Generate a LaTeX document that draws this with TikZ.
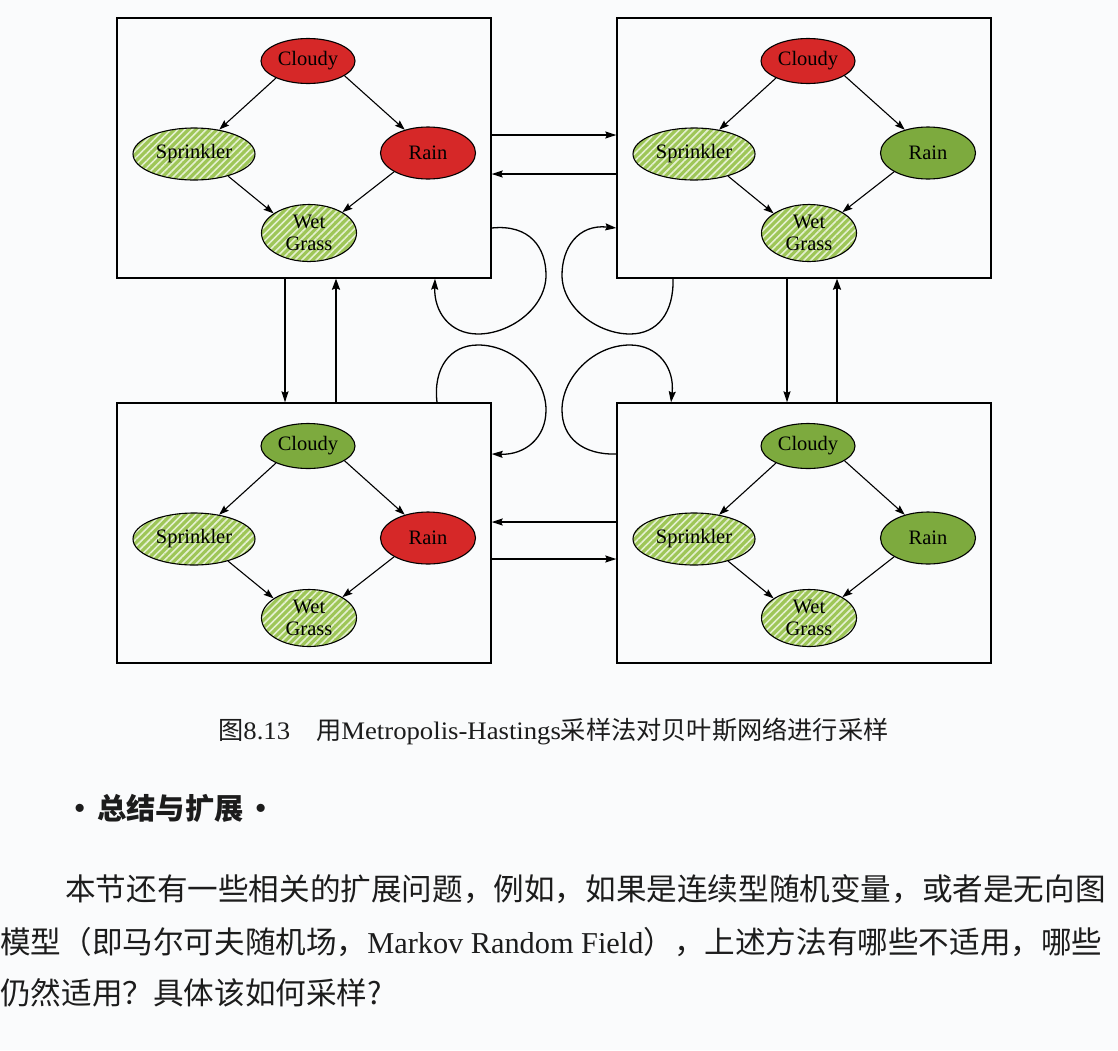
\documentclass[tikz,border=0pt]{standalone}
\usepackage{fontspec}
\usetikzlibrary{shapes.geometric,arrows.meta,patterns.meta}
\newfontfamily\cjk{Noto Sans CJK SC}
\newfontfamily\lat{Liberation Serif}
\newfontfamily\latw[FakeStretch=1.06]{Liberation Serif}
\newfontfamily\nodefont{Liberation Serif}
\definecolor{bgc}{RGB}{250,251,252}
\definecolor{nodered}{RGB}{214,40,40}
\definecolor{nodegreen}{RGB}{125,170,62}
\definecolor{hatchbase}{RGB}{158,198,88}
\definecolor{hatchline}{RGB}{228,240,208}
\definecolor{txt}{RGB}{28,28,28}
\tikzset{
  box/.style={draw=black, line width=1.3pt, minimum width=374pt, minimum height=260pt, inner sep=0pt},
  ell/.style={ellipse, draw=black, line width=1.1pt, inner sep=0pt, align=center,
    font=\nodefont\fontsize{20.5}{24}\selectfont, text=black},
  nred/.style={fill=nodered},
  ngreen/.style={fill=nodegreen},
  nhatch/.style={preaction={fill=hatchbase}, pattern={Lines[angle=45,distance=5pt,line width=1.6pt]}, pattern color=hatchline},
  tip/.style={-{Stealth[length=10pt,width=7pt,inset=1.5pt]}, line width=1.1pt},
  link/.style={-{Stealth[length=11pt,width=7pt,inset=1.5pt]}, line width=1.3pt},
  thicklink/.style={-{Stealth[length=11pt,width=8pt,inset=1.5pt]}, line width=1.9pt},
  txtnode/.style={inner sep=0pt, text=txt, anchor=west}
}
\newcommand\bnet[5]{%
  \node[box] (#1) at (#2+187,#3+130) {};
  \node[ell,#4,minimum width=94pt,minimum height=45pt] (#1c) at (#2+191,#3+43) {Cloudy};
  \node[ell,nhatch,minimum width=122pt,minimum height=52pt] (#1s) at (#2+77,#3+136) {Sprinkler};
  \node[ell,#5,minimum width=95pt,minimum height=52pt] (#1r) at (#2+311,#3+135) {Rain};
  \node[ell,nhatch,minimum width=95pt,minimum height=57pt] (#1w) at (#2+192,#3+215) {Wet\\[-2pt]Grass};
  \draw[tip] (#1c.208) -- (#1s.44);
  \draw[tip] (#1c.338) -- (#1r.135);
  \draw[tip] (#1s.327) -- (#1w.151);
  \draw[tip] (#1r.209) -- (#1w.32);
}
\begin{document}
\begin{tikzpicture}[x=1pt,y=-1pt]
\fill[bgc] (0,0) rectangle (1118,1050);
\useasboundingbox (0,0) rectangle (1118,1050);

\bnet{TL}{117}{18}{nred}{nred}
\bnet{TR}{617}{18}{nred}{ngreen}
\bnet{BL}{117}{403}{ngreen}{nred}
\bnet{BR}{617}{403}{ngreen}{ngreen}

% horizontal transitions
\draw[link] ([yshift=13pt]TL.east) -- ([yshift=13pt]TR.west);
\draw[link] ([yshift=-26pt]TR.west) -- ([yshift=-26pt]TL.east);
\draw[link] ([yshift=11pt]BR.west) -- ([yshift=11pt]BL.east);
\draw[link] ([yshift=-26pt]BL.east) -- ([yshift=-26pt]BR.west);

% vertical transitions
\draw[link] ([xshift=-19pt]TL.south) -- ([xshift=-19pt]BL.north);
\draw[thicklink] ([xshift=32pt]BL.north) -- ([xshift=32pt]TL.south);
\draw[link] ([xshift=-17pt]TR.south) -- ([xshift=-17pt]BR.north);
\draw[thicklink] ([xshift=33pt]BR.north) -- ([xshift=33pt]TR.south);

% self loops
\coordinate (l1s) at ([yshift=-80pt]TL.east);
\coordinate (l1e) at ([xshift=131pt]TL.south);
\draw[link] (l1s) .. controls (530,224) and (546,248) .. (546,275)
  .. controls (546,308) and (510,334) .. (478,334)
  .. controls (450,334) and (434,312) .. (l1e);

\coordinate (l2s) at ([xshift=-131pt]TR.south);
\coordinate (l2e) at ([yshift=-80pt]TR.west);
\draw[link] (l2s) .. controls (674,312) and (658,334) .. (630,334)
  .. controls (598,334) and (562,308) .. (562,275)
  .. controls (562,248) and (578,224) .. (l2e);

\coordinate (l3s) at ([xshift=133pt]BL.north);
\coordinate (l3e) at ([yshift=79pt]BL.east);
\draw[link] (l3s) .. controls (433,368) and (450,345) .. (478,345)
  .. controls (515,345) and (546,378) .. (546,410)
  .. controls (546,438) and (525,455) .. (l3e);

\coordinate (l4s) at ([yshift=79pt]BR.west);
\coordinate (l4e) at ([xshift=-133pt]BR.north);
\draw[link] (l4s) .. controls (583,455) and (562,438) .. (562,410)
  .. controls (562,378) and (593,345) .. (630,345)
  .. controls (658,345) and (675,368) .. (l4e);

% caption
\node[txtnode] (cap) at (218,731) {\fontsize{25.2}{30}\selectfont\cjk 图\latw 8.13\hspace{26pt}\cjk 用\latw Metropolis-Hastings\cjk 采样法对贝叶斯网络进行采样};

% heading
\node[txtnode] (head) at (97,808) {\fontsize{29.3}{34}\selectfont\cjk\bfseries\hspace{-17pt}\makebox[0pt]{·}\hspace{17pt}总结与扩展\hspace{17pt}\makebox[0pt]{·}\hspace{-17pt}};

% body
\node[txtnode] (b1) at (65,889) {\fontsize{30.6}{36}\selectfont\cjk 本节还有一些相关的扩展问题，例如，如果是连续型随机变量，或者是无向图};
\node[txtnode] (b2) at (0,942) {\fontsize{30.6}{36}\selectfont\cjk 模型（即马尔可夫随机场，{\lat\fontsize{30.3}{36}\selectfont Markov Random Field}），上述方法有哪些不适用，哪些};
\node[txtnode] (b3) at (0,993) {\fontsize{30.6}{36}\selectfont\cjk 仍然适用？具体该如何采样?};
\end{tikzpicture}
\end{document}
